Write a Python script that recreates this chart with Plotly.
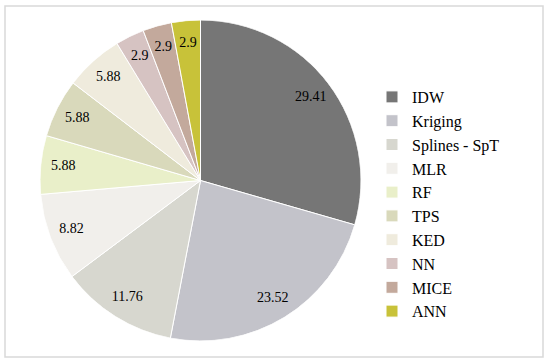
import plotly.graph_objects as go

labels = ["IDW", "Kriging", "Splines - SpT", "MLR", "RF", "TPS", "KED", "NN", "MICE", "ANN"]
values = [29.41, 23.52, 11.76, 8.82, 5.88, 5.88, 5.88, 2.9, 2.9, 2.9]
colors = ["#767676", "#c3c3ca", "#d7d7cf", "#f1efeb", "#e9efc9", "#d9d9bb",
          "#efebdd", "#d6c3c2", "#c3a99c", "#c8c239"]

W, H = 550, 364
SERIF = "Liberation Serif, Times New Roman, serif"
dom = dict(x=[40 / W, 361 / W], y=[1 - 341 / H, 1 - 20 / H])

total = sum(values)
mid_theta, widths = [], []
cum = 0.0
for v in values:
    mid_theta.append((cum + v / 2) / total * 360)
    widths.append(v / total * 360)
    cum += v

fig = go.Figure()
for lab, v, c, th, w in zip(labels, values, colors, mid_theta, widths):
    fig.add_trace(go.Barpolar(
        r=[1], theta=[th], width=[w], name=lab,
        marker=dict(color=c, line=dict(color="white", width=1)),
        hovertemplate=f"{lab}: {v:g}<extra></extra>",
    ))
# value labels placed along each slice's bisector
fig.add_trace(go.Scatterpolar(
    r=[0.86] * len(values),
    theta=mid_theta,
    mode="text",
    text=[f"{v:g}" for v in values],
    textfont=dict(family=SERIF, size=14, color="black"),
    showlegend=False,
    hoverinfo="skip",
))

fig.update_layout(
    width=W, height=H,
    margin=dict(l=0, r=0, t=0, b=0),
    paper_bgcolor="white",
    polar=dict(
        domain=dom,
        bgcolor="rgba(0,0,0,0)",
        bargap=0,
        radialaxis=dict(range=[0, 1], visible=False),
        angularaxis=dict(rotation=90, direction="clockwise", visible=False),
    ),
    legend=dict(
        x=372 / W, y=1 - 80 / H, xanchor="left", yanchor="top",
        font=dict(family=SERIF, size=16, color="black"),
        bgcolor="rgba(0,0,0,0)",
    ),
    shapes=[dict(type="rect", xref="paper", yref="paper",
                 x0=5 / W, x1=543 / W, y0=1 - 357 / H, y1=1 - 6 / H,
                 line=dict(color="#d9d9d9", width=1.5))],
)

fig.write_html("out.html", config={"displayModeBar": False},
               post_script="document.body.style.margin='0';")
